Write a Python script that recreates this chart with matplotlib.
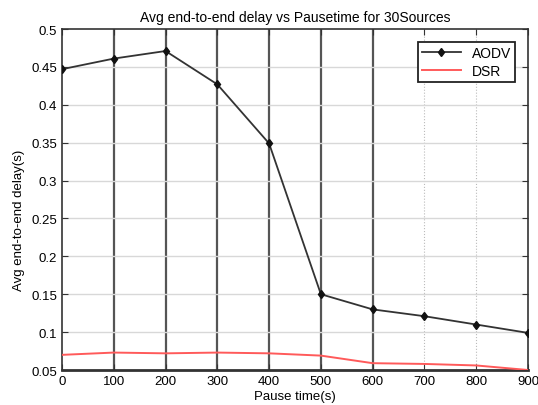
import matplotlib
matplotlib.use('Agg')
import matplotlib.pyplot as plt

pause = [0, 100, 200, 300, 400, 500, 600, 700, 800, 900]
aodv = [0.447, 0.461, 0.471, 0.427, 0.349, 0.150, 0.130, 0.121, 0.110, 0.099]
dsr = [0.070, 0.073, 0.072, 0.073, 0.072, 0.069, 0.059, 0.058, 0.056, 0.050]
yticks = [0.05, 0.1, 0.15, 0.2, 0.25, 0.3, 0.35, 0.4, 0.45, 0.5]
ylabels = ['0.05', '0.1', '0.15', '0.2', '0.25', '0.3', '0.35', '0.4', '0.45', '0.5']

plt.rcParams['font.family'] = ['Liberation Sans', 'DejaVu Sans']

fig = plt.figure(figsize=(5.38, 4.06), dpi=100)
ax = fig.add_axes([0.1152, 0.0862, 0.8662, 0.8398])

# grid: heavy verticals on the left, light dotted ones near the right edge
for xv in pause[1:-1]:
    if xv <= 600:
        ax.axvline(xv, color='#555555', lw=1.6, zorder=1)
    else:
        ax.axvline(xv, color='#bbbbbb', lw=0.8, ls=':', zorder=1)
for yv in yticks[1:-1]:
    ax.axhline(yv, color='#d8d8d8', lw=1.0, zorder=1)

ax.plot(pause, aodv, color='#333333', lw=1.3, marker='d', ms=4.5,
        mfc='#111111', mec='#111111', label='AODV', zorder=3)
ax.plot(pause, dsr, color='#ff5a5a', lw=1.4, label='DSR', zorder=3)

ax.set_xlim(0, 900)
ax.set_ylim(0.05, 0.5)
ax.set_xticks(pause)
ax.set_yticks(yticks)
ax.set_yticklabels(ylabels)
ax.tick_params(labelsize=9.5, direction='in', length=4, color='#333333',
               top=True, right=True)
for s in ax.spines.values():
    s.set_color('#333333')
    s.set_linewidth(1.2)
ax.spines['bottom'].set_linewidth(2)

ax.set_xlabel('Pause time(s)', fontsize=9.5, labelpad=2)
ax.set_ylabel('Avg end-to-end delay(s)', fontsize=9.5)
ax.yaxis.set_label_coords(-0.08, 0.443)
ax.set_title('Avg end-to-end delay vs Pausetime for 30Sources', fontsize=10, pad=6)

leg = ax.legend(loc='upper right', bbox_to_anchor=(0.988, 0.982), fontsize=10,
                fancybox=False, framealpha=1, edgecolor='#222222',
                handlelength=2.8, borderpad=0.3, labelspacing=0.25)
leg.get_frame().set_linewidth(1.3)

fig.savefig('out.png', dpi=100)
